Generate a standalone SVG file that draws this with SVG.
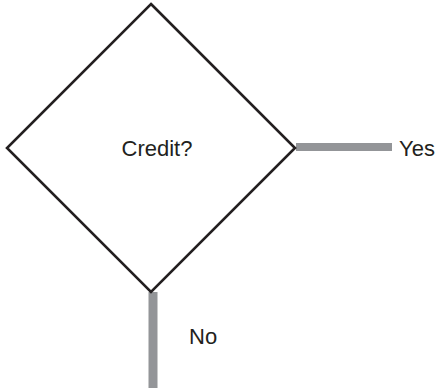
<svg xmlns="http://www.w3.org/2000/svg" width="438" height="392" viewBox="0 0 438 392">
<style>
.lbl{font-family:"Liberation Sans",Arial,sans-serif;font-size:22px;fill:#231f20}
.conn{fill:#939598}
.dec{fill:#ffffff;stroke:#231f20;stroke-width:2.6;stroke-linejoin:miter}
</style>
<rect width="438" height="392" fill="#ffffff"/>
<g id="connectors">
<rect class="conn" x="296" y="143" width="96" height="8"/>
<rect class="conn" x="148.5" y="292" width="9" height="96"/>
</g>
<g id="credit">
<polygon class="dec" points="151,4 295,148 151,292 7,148"/>
<text class="lbl" x="157" y="156" text-anchor="middle">Credit?</text>
</g>
<g id="yes-label">
<text class="lbl" x="399" y="156">Yes</text>
</g>
<g id="no-label">
<text class="lbl" x="189" y="344">No</text>
</g>
</svg>
